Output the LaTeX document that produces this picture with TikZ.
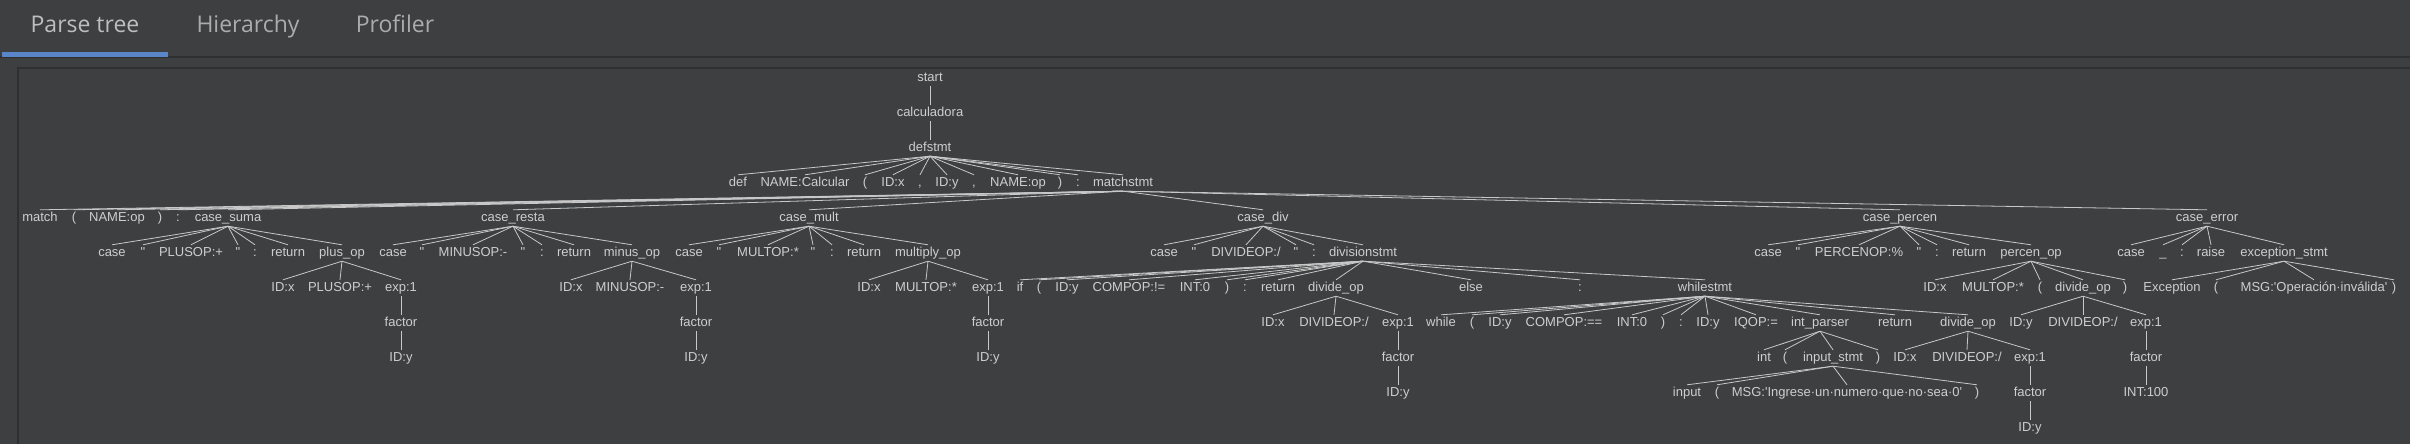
\documentclass[tikz,border=0pt]{standalone}
\usepackage{fontspec}
\newfontfamily\treefont{Liberation Sans}[Ligatures=TeXOff]
\newfontfamily\tabfont{Open Sans}
\definecolor{panelbg}{RGB}{62,63,65}
\definecolor{rulecol}{RGB}{46,47,49}
\definecolor{tabblue}{RGB}{89,134,201}
\definecolor{tabtxt}{RGB}{190,190,190}
\definecolor{tabdim}{RGB}{172,172,172}
\definecolor{treetxt}{RGB}{206,206,206}
\definecolor{treeline}{RGB}{200,200,200}

\begin{document}
\begin{tikzpicture}[
  x=1pt, y=-1pt,
  every node/.style={font=\treefont\fontsize{13}{15}\selectfont},
  tn/.style  = {text=treetxt, inner sep=0pt, minimum height=16pt, text height=9.5pt, text depth=2.5pt},
  tab/.style = {font=\tabfont\fontsize{23}{27}\selectfont, text=tabdim, inner sep=0pt, anchor=base},
  br/.style  = {treeline, line width=0.8pt},
]
  \fill[panelbg] (0,0) rectangle (2410,444);
  \useasboundingbox (0,0) rectangle (2410,444);
  % Tab bar and panel frame.
  \draw[rulecol, line width=2pt] (0,57) -- (2410,57);
  \fill[tabblue] (2,52) rectangle (168,57);
  \draw[rulecol, line width=2pt] (18,444) -- (18,68) -- (2410,68);
  \node[tab, text=tabtxt] (tparse) at (85,32.5)  {Parse tree};
  \node[tab]              (thier)  at (248,32.5) {Hierarchy};
  \node[tab]              (tprof)  at (395,32.5) {Profiler};
  % Root chain.
  \node[tn] (start) at (930,78)  {start};
  \node[tn] (calc)  at (930,113) {calculadora};
  \node[tn] (defst) at (930,148) {defstmt};
  % defstmt children.
  \node[tn] (def)    at (738,183)  {def};
  \node[tn] (nmcalc) at (805,183)  {NAME:Calcular};
  \node[tn] (lp1)    at (865,183)  {(};
  \node[tn] (idx1)   at (893,183)  {ID:x};
  \node[tn] (cm1)    at (920,183)  {,};
  \node[tn] (idy1)   at (947,183)  {ID:y};
  \node[tn] (cm2)    at (974,183)  {,};
  \node[tn] (nmop1)  at (1018,183) {NAME:op};
  \node[tn] (rp1)    at (1060,183) {)};
  \node[tn] (col1)   at (1078,183) {:};
  \node[tn] (mstmt)  at (1123,183) {matchstmt};
  % matchstmt children.
  \node[tn] (kmatch) at (40,218)   {match};
  \node[tn] (lp2)    at (74,218)   {(};
  \node[tn] (nmop2)  at (117,218)  {NAME:op};
  \node[tn] (rp2)    at (160,218)  {)};
  \node[tn] (col2)   at (178,218)  {:};
  \node[tn] (csuma)  at (228,218)  {case\_suma};
  \node[tn] (cresta) at (513,218)  {case\_resta};
  \node[tn] (cmult)  at (809,218)  {case\_mult};
  \node[tn] (cdiv)   at (1263,218) {case\_div};
  \node[tn] (cperc)  at (1900,218) {case\_percen};
  \node[tn] (cerr)   at (2207,218) {case\_error};
  % case_suma
  \node[tn] (sk)     at (112,253)  {case};
  \node[tn] (sq1)    at (143,253)  {"};
  \node[tn] (sop)    at (191,253)  {PLUSOP:+};
  \node[tn] (sq2)    at (238,253)  {"};
  \node[tn] (sc)     at (255,253)  {:};
  \node[tn] (sret)   at (288,253)  {return};
  \node[tn] (plusop) at (342,253)  {plus\_op};
  % case_resta
  \node[tn] (rk)      at (393,253) {case};
  \node[tn] (rq1)     at (422,253) {"};
  \node[tn] (rop)     at (473,253) {MINUSOP:-};
  \node[tn] (rq2)     at (523,253) {"};
  \node[tn] (rc)      at (542,253) {:};
  \node[tn] (rret)    at (574,253) {return};
  \node[tn] (minusop) at (632,253) {minus\_op};
  % case_mult
  \node[tn] (mk)     at (689,253) {case};
  \node[tn] (mq1)    at (719,253) {"};
  \node[tn] (mop)    at (768,253) {MULTOP:*};
  \node[tn] (mq2)    at (813,253) {"};
  \node[tn] (mc)     at (832,253) {:};
  \node[tn] (mret)   at (864,253) {return};
  \node[tn] (multop) at (928,253) {multiply\_op};
  % case_div
  \node[tn] (dk)    at (1164,253) {case};
  \node[tn] (dq1)   at (1194,253) {"};
  \node[tn] (dop)   at (1246,253) {DIVIDEOP:/};
  \node[tn] (dq2)   at (1296,253) {"};
  \node[tn] (dc)    at (1314,253) {:};
  \node[tn] (divst) at (1363,253) {divisionstmt};
  % case_percen
  \node[tn] (pk)     at (1768,253) {case};
  \node[tn] (pq1)    at (1798,253) {"};
  \node[tn] (pop)    at (1859,253) {PERCENOP:\%};
  \node[tn] (pq2)    at (1919,253) {"};
  \node[tn] (pc)     at (1937,253) {:};
  \node[tn] (pret)   at (1969,253) {return};
  \node[tn] (percop) at (2031,253) {percen\_op};
  % case_error
  \node[tn] (ek)     at (2131,253) {case};
  \node[tn] (eu)     at (2163,253) {\_};
  \node[tn] (ec)     at (2182,253) {:};
  \node[tn] (eraise) at (2211,253) {raise};
  \node[tn] (excst)  at (2284,253) {exception\_stmt};
  % plus_op / minus_op / multiply_op
  \node[tn] (pidx)   at (283,288) {ID:x};
  \node[tn] (pplus)  at (340,288) {PLUSOP:+};
  \node[tn] (pexp)   at (401,288) {exp:1};
  \node[tn] (pfac)   at (401,323) {factor};
  \node[tn] (pidy)   at (401,358) {ID:y};
  \node[tn] (midx)   at (571,288) {ID:x};
  \node[tn] (mminus) at (630,288) {MINUSOP:-};
  \node[tn] (mexp)   at (696,288) {exp:1};
  \node[tn] (mfac)   at (696,323) {factor};
  \node[tn] (midy)   at (696,358) {ID:y};
  \node[tn] (xidx)   at (869,288) {ID:x};
  \node[tn] (xmul)   at (926,288) {MULTOP:*};
  \node[tn] (xexp)   at (988,288) {exp:1};
  \node[tn] (xfac)   at (988,323) {factor};
  \node[tn] (xidy)   at (988,358) {ID:y};
  % divisionstmt
  \node[tn] (dif)     at (1020,288) {if};
  \node[tn] (dlp)     at (1039,288) {(};
  \node[tn] (didy)    at (1067,288) {ID:y};
  \node[tn] (dcmp)    at (1129,288) {COMPOP:!=};
  \node[tn] (dint)    at (1195,288) {INT:0};
  \node[tn] (drp)     at (1227,288) {)};
  \node[tn] (dcol)    at (1245,288) {:};
  \node[tn] (dret)    at (1278,288) {return};
  \node[tn] (ddivop)  at (1336,288) {divide\_op};
  \node[tn] (delse)   at (1471,288) {else};
  \node[tn] (dcol2)   at (1580,288) {:};
  \node[tn] (whilest) at (1705,288) {whilestmt};
  \node[tn] (didx)    at (1273,323) {ID:x};
  \node[tn] (ddop)    at (1334,323) {DIVIDEOP:/};
  \node[tn] (dexp)    at (1398,323) {exp:1};
  \node[tn] (dfac)    at (1398,358) {factor};
  \node[tn] (didy2)   at (1398,393) {ID:y};
  % whilestmt
  \node[tn] (wwhile) at (1441,323) {while};
  \node[tn] (wlp)    at (1472,323) {(};
  \node[tn] (widy)   at (1500,323) {ID:y};
  \node[tn] (wcmp)   at (1564,323) {COMPOP:==};
  \node[tn] (wint)   at (1632,323) {INT:0};
  \node[tn] (wrp)    at (1663,323) {)};
  \node[tn] (wcol)   at (1681,323) {:};
  \node[tn] (widy2)  at (1708,323) {ID:y};
  \node[tn] (wiq)    at (1756,323) {IQOP:=};
  \node[tn] (intp)   at (1820,323) {int\_parser};
  \node[tn] (wret)   at (1895,323) {return};
  \node[tn] (wdivop) at (1968,323) {divide\_op};
  \node[tn] (iint)   at (1764,358) {int};
  \node[tn] (ilp)    at (1785,358) {(};
  \node[tn] (inst)   at (1833,358) {input\_stmt};
  \node[tn] (irp)    at (1878,358) {)};
  \node[tn] (iinp)   at (1687,393) {input};
  \node[tn] (ilp2)   at (1717,393) {(};
  \node[tn] (imsg)   at (1847,393) {MSG:'Ingrese·un·numero·que·no·sea·0'};
  \node[tn] (irp2)   at (1977,393) {)};
  \node[tn] (vidx)   at (1905,358) {ID:x};
  \node[tn] (vdop)   at (1967,358) {DIVIDEOP:/};
  \node[tn] (vexp)   at (2030,358) {exp:1};
  \node[tn] (vfac)   at (2030,393) {factor};
  \node[tn] (vidy)   at (2030,428) {ID:y};
  % percen_op
  \node[tn] (qidx)   at (1935,288) {ID:x};
  \node[tn] (qmul)   at (1993,288) {MULTOP:*};
  \node[tn] (qlp)    at (2040,288) {(};
  \node[tn] (qdivop) at (2083,288) {divide\_op};
  \node[tn] (qrp)    at (2125,288) {)};
  \node[tn] (qidy)   at (2021,323) {ID:y};
  \node[tn] (qdop)   at (2083,323) {DIVIDEOP:/};
  \node[tn] (qexp)   at (2146,323) {exp:1};
  \node[tn] (qfac)   at (2146,358) {factor};
  \node[tn] (qint)   at (2146,393) {INT:100};
  % exception_stmt
  \node[tn] (exexc)  at (2172,288) {Exception};
  \node[tn] (exlp)   at (2216,288) {(};
  \node[tn] (exmsg)  at (2314,288) {MSG:'Operación·inválida'};
  \node[tn] (exrp)   at (2394,288) {)};
  % Branches.
  \foreach \a/\b in {start/calc, calc/defst,
                     defst/def, defst/nmcalc, defst/lp1, defst/idx1, defst/cm1, defst/idy1,
                     defst/cm2, defst/nmop1, defst/rp1, defst/col1, defst/mstmt,
                     mstmt/kmatch, mstmt/lp2, mstmt/nmop2, mstmt/rp2, mstmt/col2, mstmt/csuma,
                     mstmt/cresta, mstmt/cmult, mstmt/cdiv, mstmt/cperc, mstmt/cerr,
                     csuma/sk, csuma/sq1, csuma/sop, csuma/sq2, csuma/sc, csuma/sret, csuma/plusop,
                     cresta/rk, cresta/rq1, cresta/rop, cresta/rq2, cresta/rc, cresta/rret, cresta/minusop,
                     cmult/mk, cmult/mq1, cmult/mop, cmult/mq2, cmult/mc, cmult/mret, cmult/multop,
                     cdiv/dk, cdiv/dq1, cdiv/dop, cdiv/dq2, cdiv/dc, cdiv/divst,
                     cperc/pk, cperc/pq1, cperc/pop, cperc/pq2, cperc/pc, cperc/pret, cperc/percop,
                     cerr/ek, cerr/eu, cerr/ec, cerr/eraise, cerr/excst,
                     plusop/pidx, plusop/pplus, plusop/pexp, pexp/pfac, pfac/pidy,
                     minusop/midx, minusop/mminus, minusop/mexp, mexp/mfac, mfac/midy,
                     multop/xidx, multop/xmul, multop/xexp, xexp/xfac, xfac/xidy,
                     divst/dif, divst/dlp, divst/didy, divst/dcmp, divst/dint, divst/drp,
                     divst/dcol, divst/dret, divst/ddivop, divst/delse, divst/dcol2, divst/whilest,
                     ddivop/didx, ddivop/ddop, ddivop/dexp, dexp/dfac, dfac/didy2,
                     whilest/wwhile, whilest/wlp, whilest/widy, whilest/wcmp, whilest/wint,
                     whilest/wrp, whilest/wcol, whilest/widy2, whilest/wiq, whilest/intp,
                     whilest/wret, whilest/wdivop,
                     intp/iint, intp/ilp, intp/inst, intp/irp,
                     inst/iinp, inst/ilp2, inst/imsg, inst/irp2,
                     wdivop/vidx, wdivop/vdop, wdivop/vexp, vexp/vfac, vfac/vidy,
                     percop/qidx, percop/qmul, percop/qlp, percop/qdivop, percop/qrp,
                     qdivop/qidy, qdivop/qdop, qdivop/qexp, qexp/qfac, qfac/qint,
                     excst/exexc, excst/exlp, excst/exmsg, excst/exrp}
     \draw[br] (\a.south) -- (\b.north);
\end{tikzpicture}
\end{document}
